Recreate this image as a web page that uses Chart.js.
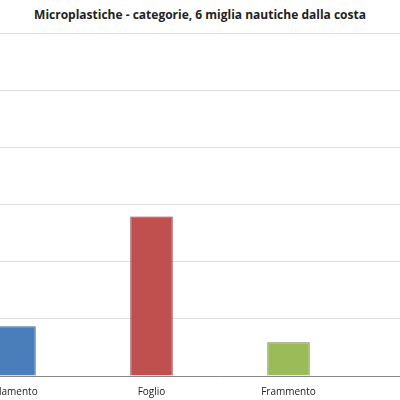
<!DOCTYPE html>
<html><head><meta charset="utf-8">
<script src="https://cdn.jsdelivr.net/npm/chart.js@4"></script>
<style>
html,body{margin:0;padding:0;width:400px;height:400px;overflow:hidden;background:#fff;position:relative}
#t{position:absolute;top:6px;left:0;width:400px;text-align:center;font:bold 12px "Open Sans",sans-serif;color:#222}
#w{position:absolute;left:-54px;top:0;width:548px;height:400px}
</style></head><body>
<div id="t">Microplastiche - categorie, 6 miglia nautiche dalla costa</div>
<div id="w"><canvas id="c"></canvas></div>
<script>
const categories=["Filamento","Foglio","Frammento",""];
const values=[0.87,2.79,0.59,null];
const fills=["#4a7ebb","#c0504d","#9bbb59","#8064a2"];
const borders=["#3a659a","#8c3836","#71893f","#5c4776"];
new Chart(document.getElementById('c'),{type:'bar',
data:{labels:categories,datasets:[{data:values,backgroundColor:fills,borderColor:borders,borderWidth:1,categoryPercentage:1,barPercentage:0.31}]},
options:{responsive:true,maintainAspectRatio:false,animation:false,
layout:{padding:{top:33,left:0,right:0,bottom:0}},
plugins:{legend:{display:false},tooltip:{enabled:false}},
scales:{
x:{grid:{display:false},border:{color:'#888'},ticks:{color:'#222',font:{family:'Open Sans',size:10},padding:2}},
y:{min:0,max:6,ticks:{display:false,stepSize:1},grid:{color:'#ddd',drawTicks:false},border:{display:false},afterFit(s){s.width=0}}
}}});
</script></body></html>
